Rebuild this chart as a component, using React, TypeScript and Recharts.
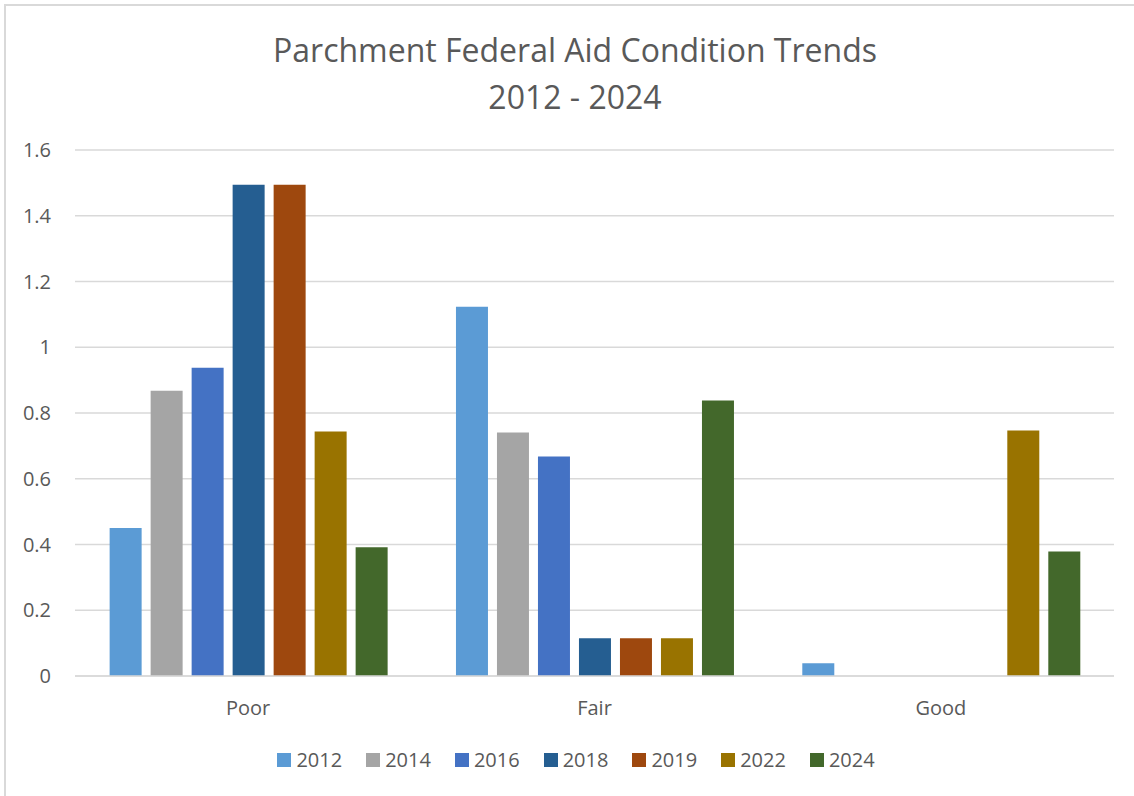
import { Bar, BarChart, CartesianGrid, Legend, XAxis, YAxis } from "recharts";

const categories = ["Poor", "Fair", "Good"];
const years = ["2012", "2014", "2016", "2018", "2019", "2022", "2024"];
const colors = ["#5B9BD5", "#A5A5A5", "#4472C4", "#255E91", "#9E480E", "#997300", "#43682B"];

const v2012 = [0.45, 1.123, 0.039];
const v2014 = [0.868, 0.741, 0];
const v2016 = [0.938, 0.668, 0];
const v2018 = [1.494, 0.115, 0];
const v2019 = [1.494, 0.115, 0];
const v2022 = [0.744, 0.115, 0.747];
const v2024 = [0.392, 0.838, 0.379];

const series = [v2012, v2014, v2016, v2018, v2019, v2022, v2024];
const yTicks = [0, 0.2, 0.4, 0.6, 0.8, 1, 1.2, 1.4, 1.6];

const data = categories.map((c, i) => {
  const row: Record<string, string | number> = { category: c };
  years.forEach((y, j) => {
    row[y] = series[j][i];
  });
  return row;
});

const font = "'Open Sans', sans-serif";
const grey = "#595959";

function YearLegend() {
  return (
    <div style={{ display: "flex", justifyContent: "center", alignItems: "center", gap: 24, paddingLeft: 38 }}>
      {years.map((y, j) => (
        <div key={y} style={{ display: "flex", alignItems: "center", gap: 5 }}>
          <span style={{ display: "inline-block", width: 14, height: 14, background: colors[j] }} />
          <span style={{ color: grey, fontSize: 20, fontFamily: font, lineHeight: "24px" }}>{y}</span>
        </div>
      ))}
    </div>
  );
}

export default function App() {
  return (
    <div style={{ position: "absolute", left: 0, top: 0, width: 1134, height: 796, overflow: "hidden", background: "#fff", fontFamily: font }}>
      <div style={{ position: "absolute", left: 4, top: 4, width: 1150, height: 820, border: "2px solid #d9d9d9" }} />
      <div style={{ position: "absolute", left: 0, top: 26, width: 1150, textAlign: "center", color: grey, fontSize: 32, lineHeight: "47px" }}>
        Parchment Federal Aid Condition Trends
        <br />
        2012 - 2024
      </div>
      <div style={{ position: "absolute", left: 0, top: 0 }}>
        <BarChart
          width={1134}
          height={796}
          data={data}
          margin={{ top: 150, right: 20, left: 0, bottom: 40 }}
          barCategoryGap="10%"
          barGap={9}
        >
          <CartesianGrid vertical={false} stroke="#d9d9d9" strokeWidth={1.5} />
          <XAxis
            dataKey="category"
            height={50}
            tickLine={false}
            axisLine={{ stroke: "#d9d9d9", strokeWidth: 1.5 }}
            tick={{ fill: grey, fontSize: 20, fontFamily: font }}
            tickMargin={19}
          />
          <YAxis
            width={75}
            domain={[0, 1.6]}
            ticks={yTicks}
            tickLine={false}
            axisLine={false}
            tick={{ fill: grey, fontSize: 20, fontFamily: font }}
            tickMargin={18}
            interval={0}
          />
          <Legend verticalAlign="bottom" height={30} wrapperStyle={{ top: 748 }} content={() => <YearLegend />} />
          {years.map((y, j) => (
            <Bar key={y} dataKey={y} fill={colors[j]} isAnimationActive={false} />
          ))}
        </BarChart>
      </div>
    </div>
  );
}
